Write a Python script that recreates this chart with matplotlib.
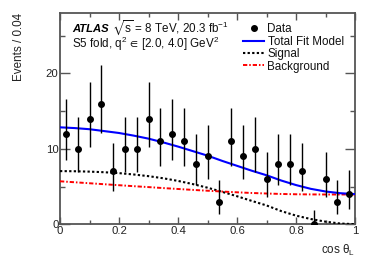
import math
import numpy as np
import matplotlib
matplotlib.use("Agg")
import matplotlib.pyplot as plt
from matplotlib.ticker import MultipleLocator
from matplotlib.lines import Line2D

plt.rcParams['font.family'] = ['Liberation Sans', 'DejaVu Sans']
plt.rcParams['mathtext.fontset'] = 'custom'
plt.rcParams['mathtext.rm'] = 'Liberation Sans'
plt.rcParams['mathtext.it'] = 'Liberation Sans:italic'
plt.rcParams['mathtext.bf'] = 'Liberation Sans:bold'
plt.rcParams['mathtext.fallback'] = 'stixsans'

# ---- data ----
bin_centers = [0.02, 0.06, 0.10, 0.14, 0.18, 0.22, 0.26, 0.30, 0.34, 0.38,
               0.42, 0.46, 0.50, 0.54, 0.58, 0.62, 0.66, 0.70, 0.74, 0.78,
               0.82, 0.86, 0.90, 0.94, 0.98]
counts = [12, 10, 14, 16, 7, 10, 10, 14, 11, 12,
          11, 8, 9, 3, 11, 9, 10, 6, 8, 8,
          7, 0, 6, 3, 4]

curve_x = [0.00, 0.05, 0.10, 0.15, 0.20, 0.25, 0.30, 0.35, 0.40, 0.45,
           0.50, 0.55, 0.60, 0.65, 0.70, 0.75, 0.80, 0.85, 0.90, 0.95, 1.00]
total_fit = [12.85, 12.75, 12.6, 12.35, 12.1, 11.75, 11.35, 10.85, 10.3, 9.7,
             9.1, 8.4, 7.75, 7.1, 6.5, 5.8, 5.2, 4.7, 4.35, 4.12, 4.0]
signal = [7.05, 7.03, 6.98, 6.9, 6.78, 6.6, 6.38, 6.1, 5.75, 5.33,
          4.85, 4.3, 3.72, 3.1, 2.5, 1.75, 1.15, 0.7, 0.35, 0.1, 0.02]
background = [5.7, 5.57, 5.44, 5.31, 5.18, 5.05, 4.93, 4.8, 4.68, 4.56,
              4.45, 4.34, 4.24, 4.15, 4.08, 4.02, 3.98, 3.96, 3.95, 3.95, 3.96]

x_ticks = [0, 0.2, 0.4, 0.6, 0.8, 1]
x_tick_labels = ['0', '0.2', '0.4', '0.6', '0.8', '1']
y_ticks = [0, 10, 20]
y_tick_labels = ['0', '10', '20']


# ---- Poisson (Garwood) 68% intervals from the counts ----
def pois_cdf(k, mu):
    s = 0.0
    term = math.exp(-mu)
    for i in range(k + 1):
        if i > 0:
            term *= mu / i
        s += term
    return s


def garwood(n, a=0.1586553):
    lo_b, hi_b = float(n), n + 20.0
    for _ in range(100):
        m = 0.5 * (lo_b + hi_b)
        if pois_cdf(n, m) > a:
            lo_b = m
        else:
            hi_b = m
    up = 0.5 * (lo_b + hi_b)
    if n == 0:
        return 0.0, up
    lo_b, hi_b = 0.0, float(n)
    for _ in range(100):
        m = 0.5 * (lo_b + hi_b)
        if 1 - pois_cdf(n - 1, m) < a:
            lo_b = m
        else:
            hi_b = m
    low = 0.5 * (lo_b + hi_b)
    return low, up


err_lo = []
err_hi = []
for n in counts:
    l, u = garwood(n)
    err_lo.append(n - l)
    err_hi.append(u - n)

# ---- figure ----
W, H = 374, 268
fig = plt.figure(figsize=(W / 100, H / 100), dpi=100)
ax = fig.add_axes([60 / W, 1 - 224.3 / H, 295 / W, 211.3 / H])

frame_col = '#555555'

ax.errorbar(bin_centers, counts, yerr=[err_lo, err_hi], fmt='o',
            color='black', ms=4.0, elinewidth=1.0, capsize=0, zorder=5)
h_tot, = ax.plot(curve_x, total_fit, color='#0000ff', lw=1.5, zorder=4)
h_sig, = ax.plot(curve_x, signal, color='black', lw=1.5,
                 dashes=(1.1, 1.1), zorder=3)
h_bkg, = ax.plot(curve_x, background, color='#ff0000', lw=1.4,
                 dashes=(2.2, 1.0, 0.8, 1.0), zorder=3)

ax.set_xlim(0, 1)
ax.set_ylim(0, 28)
ax.set_xticks(x_ticks)
ax.set_xticklabels(x_tick_labels)
ax.set_yticks(y_ticks)
ax.set_yticklabels(y_tick_labels)
ax.xaxis.set_minor_locator(MultipleLocator(0.1))
ax.yaxis.set_minor_locator(MultipleLocator(5))

for sp in ax.spines.values():
    sp.set_color(frame_col)
    sp.set_linewidth(1.3)

ax.tick_params(axis='both', which='both', direction='in', top=True,
               right=True, color=frame_col, width=1.0, labelsize=8.2,
               labelcolor='#222222')
ax.tick_params(axis='x', which='major', length=5, pad=1)
ax.tick_params(axis='x', which='minor', length=2.8)
ax.tick_params(axis='y', which='major', length=7, pad=1)
ax.tick_params(axis='y', which='minor', length=3.6)

# axis labels
fig.text(19 / W, 1 - 13 / H, 'Events / 0.04', rotation=90, ha='center',
         va='top', fontsize=8.4, color='#222222')
ax.set_xlabel(r'cos θ$_\mathrm{L}$', fontsize=8.4, color='#222222',
              loc='right', labelpad=5)

# ATLAS label
fig.text(72 / W, 1 - 31.7 / H, 'ATLAS', fontsize=8.1, fontweight='bold',
         fontstyle='italic', ha='left', va='baseline', color='black')
fig.text(112 / W, 1 - 31.7 / H, r'$\sqrt{\mathrm{s}}$ = 8 TeV, 20.3 fb$^{-1}$',
         fontsize=8.4, ha='left', va='baseline', color='#111111')
fig.text(72 / W, 1 - 48 / H,
         r'S5 fold, q$^{2}$ $\!\in\!$ [2.0, 4.0] GeV$^{2}$',
         fontsize=8.4, ha='left', va='baseline', color='#111111')

# legend
data_handle = Line2D([], [], marker='o', ls='none', color='black', ms=4.0)
leg = ax.legend([data_handle, h_tot, h_sig, h_bkg],
                ['Data', 'Total Fit Model', 'Signal', 'Background'],
                loc='upper left', bbox_to_anchor=(243 / W, 1 - 23.5 / H),
                bbox_transform=fig.transFigure, frameon=False,
                fontsize=8.4, handlelength=1.8, handletextpad=0.3,
                labelspacing=0.03, borderpad=0, borderaxespad=0)
for t in leg.get_texts():
    t.set_color('#111111')

fig.savefig('out.png', dpi=100)
